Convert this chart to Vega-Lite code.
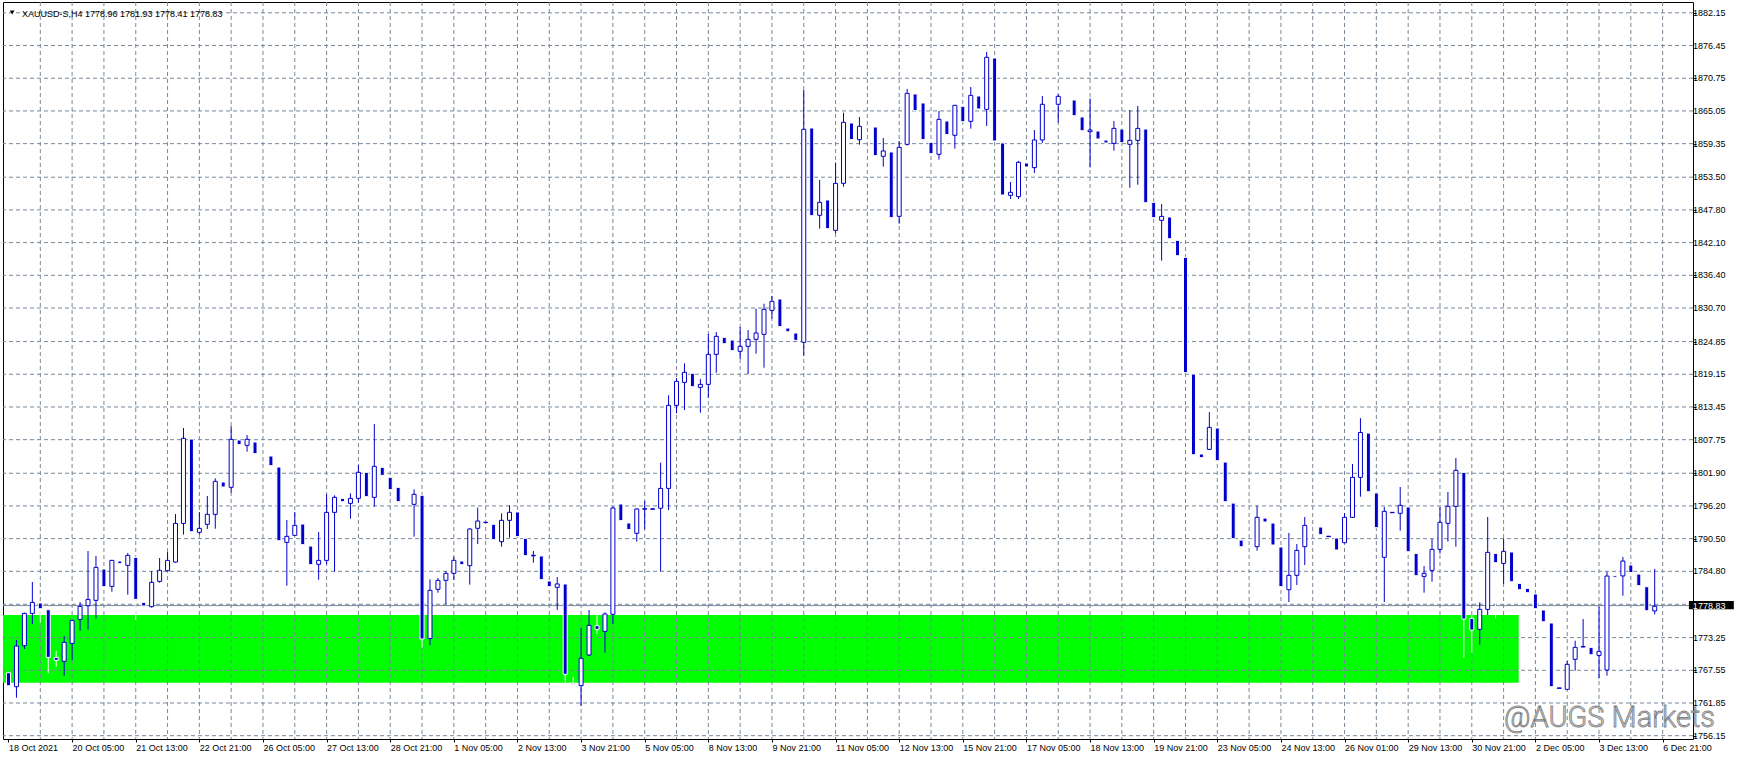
{
  "$schema": "https://vega.github.io/schema/vega-lite/v6.json",
  "width": 1690,
  "height": 737,
  "autosize": {"type": "none"},
  "padding": {"left": 3, "top": 2, "right": 47, "bottom": 22},
  "background": "#ffffff",
  "config": {
    "view": {"stroke": "#000000", "strokeWidth": 1},
    "font": "Liberation Sans",
    "axis": {"domain": false, "grid": false, "title": null, "labelFont": "Liberation Sans", "labelFontSize": 9, "labelColor": "#000000", "tickColor": "#000000", "labelOverlap": false, "labelBound": false, "labelFlush": false, "tickSize": 3},
    "axisX": {"labelAlign": "left", "labelBaseline": "top", "labelPadding": 1}
  },
  "datasets": {
    "candles": [
      {"i":0,"o":1767.13,"h":1767.13,"l":1764.86,"c":1764.86},
      {"i":1,"o":1764.69,"h":1772.83,"l":1762.77,"c":1771.78},
      {"i":2,"o":1771.84,"h":1777.6,"l":1771.26,"c":1777.47},
      {"i":3,"o":1777.47,"h":1782.94,"l":1775.61,"c":1779.39},
      {"i":4,"o":1779.28,"h":1779.28,"l":1775.85,"c":1778.29},
      {"i":5,"o":1778.11,"h":1778.11,"l":1767.02,"c":1769.8},
      {"i":6,"o":1769.8,"h":1770.91,"l":1768.18,"c":1769.28},
      {"i":7,"o":1769.11,"h":1773.52,"l":1766.61,"c":1772.42},
      {"i":8,"o":1772.24,"h":1776.3,"l":1769.34,"c":1776.25},
      {"i":9,"o":1776.43,"h":1779.45,"l":1774.45,"c":1778.69},
      {"i":10,"o":1778.81,"h":1788.34,"l":1774.63,"c":1779.91},
      {"i":11,"o":1779.74,"h":1787.47,"l":1776.54,"c":1785.49},
      {"i":12,"o":1785.2,"h":1785.2,"l":1782.12,"c":1782.12},
      {"i":13,"o":1782.18,"h":1786.8,"l":1781.25,"c":1786.71},
      {"i":14,"o":1786.6,"h":1786.6,"l":1786.13,"c":1786.13},
      {"i":15,"o":1785.84,"h":1787.99,"l":1780.73,"c":1787.58},
      {"i":16,"o":1787.24,"h":1787.24,"l":1776.31,"c":1779.91},
      {"i":17,"o":1779.39,"h":1779.39,"l":1778.75,"c":1778.75},
      {"i":18,"o":1778.64,"h":1784.85,"l":1778.46,"c":1782.88},
      {"i":19,"o":1783.05,"h":1787.12,"l":1782.82,"c":1784.97},
      {"i":20,"o":1784.91,"h":1788.17,"l":1784.8,"c":1786.71},
      {"i":21,"o":1786.42,"h":1794.79,"l":1786.3,"c":1793.16},
      {"i":22,"o":1793.16,"h":1809.78,"l":1791.19,"c":1807.98},
      {"i":23,"o":1807.86,"h":1807.86,"l":1791.71,"c":1791.71},
      {"i":24,"o":1791.6,"h":1795.14,"l":1791.25,"c":1792.29},
      {"i":25,"o":1792.99,"h":1797.93,"l":1792.18,"c":1794.73},
      {"i":26,"o":1794.73,"h":1801.01,"l":1792.23,"c":1800.49},
      {"i":27,"o":1800.37,"h":1800.37,"l":1799.5,"c":1799.5},
      {"i":28,"o":1799.44,"h":1810.13,"l":1798.51,"c":1807.81},
      {"i":29,"o":1807.69,"h":1807.69,"l":1806.88,"c":1806.88},
      {"i":30,"o":1806.76,"h":1808.56,"l":1805.66,"c":1807.81},
      {"i":31,"o":1807.34,"h":1807.34,"l":1805.31,"c":1805.31},
      {"i":32,"o":1805.15,"h":1805.15,"l":1805.1,"c":1805.1},
      {"i":33,"o":1804.9,"h":1804.9,"l":1803.22,"c":1803.22},
      {"i":34,"o":1802.98,"h":1802.98,"l":1790.14,"c":1790.14},
      {"i":35,"o":1789.85,"h":1793.75,"l":1782.3,"c":1790.9},
      {"i":36,"o":1791.07,"h":1795.14,"l":1791.0,"c":1792.82},
      {"i":37,"o":1793.05,"h":1793.05,"l":1789.45,"c":1789.45},
      {"i":38,"o":1789.21,"h":1789.21,"l":1785.96,"c":1785.96},
      {"i":39,"o":1786.02,"h":1791.65,"l":1783.34,"c":1786.71},
      {"i":40,"o":1786.71,"h":1798.22,"l":1786.02,"c":1795.08},
      {"i":41,"o":1795.08,"h":1798.05,"l":1784.74,"c":1797.7},
      {"i":42,"o":1797.52,"h":1797.52,"l":1796.94,"c":1796.94},
      {"i":43,"o":1796.65,"h":1798.4,"l":1793.98,"c":1797.52},
      {"i":44,"o":1797.52,"h":1803.28,"l":1796.77,"c":1802.06},
      {"i":45,"o":1802.06,"h":1802.06,"l":1797.82,"c":1797.82},
      {"i":46,"o":1797.7,"h":1810.48,"l":1796.07,"c":1803.1},
      {"i":47,"o":1802.93,"h":1802.93,"l":1801.53,"c":1801.53},
      {"i":48,"o":1801.19,"h":1801.19,"l":1799.04,"c":1799.04},
      {"i":49,"o":1799.44,"h":1799.44,"l":1796.94,"c":1796.94},
      {"i":50,"o":1797.0,"h":1797.0,"l":1796.95,"c":1796.95},
      {"i":51,"o":1796.48,"h":1799.09,"l":1790.84,"c":1798.22},
      {"i":52,"o":1798.05,"h":1798.05,"l":1771.5,"c":1773.0},
      {"i":53,"o":1773.1,"h":1783.41,"l":1771.9,"c":1781.49},
      {"i":54,"o":1781.66,"h":1783.64,"l":1781.08,"c":1783.23},
      {"i":55,"o":1783.23,"h":1784.86,"l":1779.05,"c":1784.45},
      {"i":56,"o":1784.45,"h":1787.36,"l":1783.29,"c":1786.72},
      {"i":57,"o":1786.6,"h":1786.6,"l":1785.96,"c":1785.96},
      {"i":58,"o":1785.79,"h":1792.3,"l":1782.48,"c":1792.18},
      {"i":59,"o":1792.3,"h":1795.9,"l":1789.56,"c":1793.57},
      {"i":60,"o":1793.3,"h":1793.4,"l":1793.25,"c":1793.36},
      {"i":61,"o":1793.0,"h":1793.0,"l":1790.32,"c":1790.32},
      {"i":62,"o":1789.97,"h":1794.91,"l":1789.1,"c":1793.69},
      {"i":63,"o":1793.69,"h":1796.31,"l":1790.67,"c":1795.09},
      {"i":64,"o":1795.15,"h":1795.15,"l":1790.85,"c":1790.85},
      {"i":65,"o":1790.56,"h":1790.56,"l":1787.53,"c":1787.53},
      {"i":66,"o":1787.5,"h":1788.35,"l":1786.31,"c":1787.6},
      {"i":67,"o":1787.48,"h":1787.48,"l":1783.35,"c":1783.35},
      {"i":68,"o":1783.12,"h":1783.12,"l":1782.13,"c":1782.13},
      {"i":69,"o":1782.01,"h":1783.82,"l":1778.06,"c":1782.6},
      {"i":70,"o":1782.6,"h":1782.9,"l":1765.45,"c":1766.85},
      {"i":71,"o":1765.28,"h":1766.38,"l":1765.05,"c":1765.05},
      {"i":72,"o":1764.87,"h":1774.92,"l":1761.33,"c":1769.64},
      {"i":73,"o":1770.22,"h":1778.06,"l":1770.05,"c":1775.39},
      {"i":74,"o":1775.33,"h":1777.19,"l":1773.88,"c":1774.69},
      {"i":75,"o":1774.34,"h":1777.66,"l":1770.63,"c":1777.37},
      {"i":76,"o":1777.31,"h":1796.08,"l":1775.62,"c":1795.84},
      {"i":77,"o":1796.54,"h":1796.54,"l":1793.64,"c":1793.64},
      {"i":78,"o":1793.23,"h":1793.23,"l":1792.07,"c":1792.07},
      {"i":79,"o":1791.43,"h":1795.8,"l":1789.97,"c":1795.67},
      {"i":80,"o":1795.62,"h":1797.06,"l":1792.18,"c":1795.72},
      {"i":81,"o":1795.62,"h":1795.75,"l":1795.6,"c":1795.7},
      {"i":82,"o":1795.8,"h":1803.74,"l":1784.8,"c":1799.26},
      {"i":83,"o":1799.26,"h":1815.48,"l":1795.49,"c":1813.73},
      {"i":84,"o":1813.73,"h":1818.5,"l":1812.34,"c":1817.92},
      {"i":85,"o":1817.74,"h":1821.05,"l":1812.92,"c":1819.49},
      {"i":86,"o":1819.31,"h":1819.31,"l":1816.99,"c":1816.99},
      {"i":87,"o":1816.87,"h":1818.32,"l":1812.45,"c":1817.39},
      {"i":88,"o":1817.39,"h":1826.17,"l":1815.07,"c":1822.62},
      {"i":89,"o":1822.62,"h":1826.52,"l":1819.43,"c":1825.76},
      {"i":90,"o":1825.59,"h":1825.59,"l":1824.48,"c":1824.48},
      {"i":91,"o":1825.12,"h":1825.12,"l":1823.26,"c":1823.26},
      {"i":92,"o":1823.15,"h":1827.39,"l":1821.81,"c":1824.02},
      {"i":93,"o":1824.02,"h":1826.86,"l":1819.19,"c":1825.24},
      {"i":94,"o":1825.24,"h":1830.58,"l":1822.74,"c":1826.34},
      {"i":95,"o":1826.11,"h":1831.45,"l":1820.3,"c":1830.47},
      {"i":96,"o":1830.29,"h":1832.79,"l":1828.84,"c":1831.86},
      {"i":97,"o":1832.27,"h":1832.27,"l":1827.45,"c":1827.45},
      {"i":98,"o":1827.21,"h":1827.21,"l":1826.57,"c":1826.57},
      {"i":99,"o":1826.34,"h":1826.34,"l":1825.06,"c":1825.06},
      {"i":100,"o":1824.72,"h":1868.7,"l":1822.39,"c":1861.85},
      {"i":101,"o":1862.08,"h":1862.08,"l":1846.8,"c":1846.8},
      {"i":102,"o":1846.86,"h":1853.02,"l":1844.53,"c":1849.12},
      {"i":103,"o":1849.53,"h":1849.53,"l":1844.53,"c":1844.53},
      {"i":104,"o":1844.24,"h":1856.04,"l":1843.72,"c":1852.43},
      {"i":105,"o":1852.43,"h":1864.75,"l":1851.85,"c":1863.07},
      {"i":106,"o":1862.95,"h":1862.95,"l":1860.05,"c":1860.05},
      {"i":107,"o":1860.05,"h":1864.0,"l":1859.17,"c":1862.37},
      {"i":108,"o":1862.45,"h":1862.45,"l":1862.4,"c":1862.4},
      {"i":109,"o":1862.25,"h":1862.25,"l":1857.26,"c":1857.26},
      {"i":110,"o":1857.14,"h":1860.34,"l":1855.34,"c":1858.07},
      {"i":111,"o":1857.9,"h":1857.9,"l":1846.45,"c":1846.45},
      {"i":112,"o":1846.68,"h":1859.81,"l":1845.4,"c":1858.71},
      {"i":113,"o":1859.23,"h":1868.88,"l":1859.0,"c":1868.12},
      {"i":114,"o":1868.01,"h":1868.01,"l":1865.1,"c":1865.1},
      {"i":115,"o":1866.44,"h":1866.44,"l":1860.05,"c":1860.05},
      {"i":116,"o":1859.58,"h":1859.58,"l":1857.61,"c":1857.61},
      {"i":117,"o":1857.49,"h":1865.04,"l":1856.56,"c":1863.59},
      {"i":118,"o":1863.3,"h":1863.3,"l":1860.92,"c":1860.92},
      {"i":119,"o":1860.8,"h":1866.1,"l":1858.48,"c":1866.03},
      {"i":120,"o":1865.86,"h":1865.86,"l":1863.18,"c":1863.18},
      {"i":121,"o":1863.24,"h":1869.23,"l":1861.96,"c":1867.77},
      {"i":122,"o":1867.66,"h":1867.66,"l":1865.39,"c":1865.39},
      {"i":123,"o":1865.33,"h":1875.33,"l":1862.43,"c":1874.4},
      {"i":124,"o":1874.28,"h":1874.28,"l":1859.81,"c":1859.81},
      {"i":125,"o":1859.47,"h":1859.47,"l":1850.4,"c":1850.4},
      {"i":126,"o":1850.34,"h":1852.67,"l":1849.7,"c":1850.87},
      {"i":127,"o":1850.11,"h":1856.33,"l":1849.7,"c":1856.1},
      {"i":128,"o":1855.98,"h":1855.98,"l":1855.28,"c":1855.28},
      {"i":129,"o":1855.17,"h":1861.73,"l":1854.24,"c":1859.99},
      {"i":130,"o":1859.99,"h":1867.66,"l":1859.47,"c":1866.21},
      {"i":131,"o":1866.25,"h":1866.25,"l":1866.2,"c":1866.2},
      {"i":132,"o":1866.21,"h":1867.95,"l":1863.01,"c":1867.6},
      {"i":133,"o":1867.25,"h":1867.25,"l":1867.2,"c":1867.2},
      {"i":134,"o":1866.96,"h":1866.96,"l":1864.23,"c":1864.23},
      {"i":135,"o":1864.0,"h":1864.0,"l":1861.61,"c":1861.61},
      {"i":136,"o":1861.43,"h":1867.24,"l":1855.22,"c":1861.72},
      {"i":137,"o":1861.55,"h":1861.55,"l":1860.16,"c":1860.16},
      {"i":138,"o":1859.98,"h":1859.98,"l":1859.46,"c":1859.46},
      {"i":139,"o":1859.4,"h":1863.29,"l":1858.12,"c":1862.01},
      {"i":140,"o":1861.9,"h":1861.9,"l":1859.52,"c":1859.52},
      {"i":141,"o":1859.23,"h":1865.21,"l":1851.67,"c":1859.92},
      {"i":142,"o":1859.92,"h":1865.91,"l":1852.19,"c":1862.01},
      {"i":143,"o":1861.9,"h":1861.9,"l":1849.06,"c":1849.06},
      {"i":144,"o":1849.12,"h":1849.12,"l":1846.44,"c":1846.44},
      {"i":145,"o":1845.98,"h":1848.82,"l":1838.95,"c":1846.67},
      {"i":146,"o":1846.56,"h":1846.56,"l":1842.78,"c":1842.78},
      {"i":147,"o":1842.49,"h":1842.49,"l":1839.82,"c":1839.82},
      {"i":148,"o":1839.53,"h":1839.53,"l":1819.42,"c":1819.42},
      {"i":149,"o":1819.19,"h":1819.19,"l":1805.13,"c":1805.13},
      {"i":150,"o":1805.25,"h":1805.25,"l":1804.61,"c":1804.61},
      {"i":151,"o":1806.06,"h":1812.57,"l":1806.0,"c":1809.89},
      {"i":152,"o":1809.78,"h":1809.78,"l":1804.08,"c":1804.08},
      {"i":153,"o":1803.85,"h":1803.85,"l":1796.94,"c":1796.94},
      {"i":154,"o":1796.7,"h":1796.7,"l":1790.49,"c":1790.49},
      {"i":155,"o":1790.25,"h":1790.25,"l":1789.09,"c":1789.09},
      {"i":156,"o":1789.15,"h":1789.15,"l":1789.1,"c":1789.1},
      {"i":157,"o":1789.1,"h":1796.24,"l":1788.4,"c":1794.21},
      {"i":158,"o":1794.09,"h":1794.09,"l":1793.4,"c":1793.4},
      {"i":159,"o":1793.22,"h":1793.22,"l":1789.39,"c":1789.39},
      {"i":160,"o":1789.04,"h":1789.04,"l":1782.12,"c":1782.12},
      {"i":161,"o":1781.6,"h":1791.48,"l":1779.45,"c":1784.1},
      {"i":162,"o":1784.1,"h":1789.56,"l":1782.41,"c":1788.46},
      {"i":163,"o":1789.1,"h":1794.27,"l":1785.9,"c":1792.81},
      {"i":164,"o":1792.85,"h":1792.85,"l":1792.8,"c":1792.8},
      {"i":165,"o":1792.52,"h":1792.52,"l":1791.19,"c":1791.19},
      {"i":166,"o":1790.85,"h":1790.95,"l":1790.8,"c":1790.92},
      {"i":167,"o":1790.61,"h":1790.61,"l":1788.52,"c":1788.52},
      {"i":168,"o":1789.79,"h":1794.96,"l":1789.7,"c":1794.21},
      {"i":169,"o":1794.21,"h":1803.51,"l":1794.1,"c":1801.18},
      {"i":170,"o":1801.18,"h":1811.5,"l":1797.81,"c":1809.0},
      {"i":171,"o":1808.9,"h":1808.9,"l":1798.68,"c":1798.68},
      {"i":172,"o":1798.45,"h":1798.45,"l":1792.41,"c":1792.41},
      {"i":173,"o":1787.24,"h":1796.01,"l":1779.45,"c":1795.26},
      {"i":174,"o":1795.02,"h":1795.1,"l":1795.0,"c":1795.08},
      {"i":175,"o":1794.91,"h":1799.5,"l":1791.89,"c":1796.3},
      {"i":176,"o":1796.01,"h":1796.01,"l":1788.22,"c":1788.22},
      {"i":177,"o":1787.93,"h":1787.93,"l":1784.04,"c":1784.04},
      {"i":178,"o":1783.92,"h":1785.73,"l":1781.08,"c":1784.45},
      {"i":179,"o":1784.97,"h":1790.43,"l":1783.0,"c":1788.63},
      {"i":180,"o":1788.63,"h":1795.95,"l":1787.88,"c":1793.34},
      {"i":181,"o":1793.16,"h":1798.63,"l":1789.97,"c":1796.13},
      {"i":182,"o":1796.13,"h":1804.55,"l":1789.1,"c":1802.4},
      {"i":183,"o":1802.05,"h":1802.05,"l":1769.75,"c":1776.49},
      {"i":184,"o":1776.6,"h":1777.18,"l":1770.62,"c":1774.57},
      {"i":185,"o":1774.69,"h":1779.39,"l":1772.01,"c":1778.17},
      {"i":186,"o":1778.17,"h":1794.27,"l":1777.18,"c":1788.11},
      {"i":187,"o":1787.93,"h":1787.93,"l":1776.6,"c":1786.31},
      {"i":188,"o":1786.19,"h":1790.49,"l":1782.59,"c":1788.28},
      {"i":189,"o":1788.17,"h":1788.17,"l":1782.99,"c":1782.99},
      {"i":190,"o":1782.7,"h":1782.7,"l":1781.6,"c":1781.6},
      {"i":191,"o":1781.83,"h":1781.83,"l":1781.08,"c":1781.08},
      {"i":192,"o":1780.85,"h":1780.85,"l":1778.29,"c":1778.29},
      {"i":193,"o":1778.06,"h":1778.06,"l":1776.02,"c":1776.02},
      {"i":194,"o":1775.79,"h":1775.79,"l":1764.69,"c":1764.69},
      {"i":195,"o":1764.4,"h":1764.5,"l":1764.35,"c":1764.48},
      {"i":196,"o":1764.23,"h":1769.17,"l":1764.2,"c":1768.59},
      {"i":197,"o":1769.46,"h":1772.71,"l":1767.48,"c":1771.55},
      {"i":198,"o":1771.62,"h":1776.49,"l":1771.5,"c":1771.7},
      {"i":199,"o":1771.55,"h":1771.55,"l":1770.27,"c":1770.27},
      {"i":200,"o":1770.15,"h":1778.64,"l":1766.15,"c":1770.85},
      {"i":201,"o":1767.6,"h":1784.74,"l":1766.61,"c":1783.98},
      {"i":202,"o":1784.04,"h":1784.04,"l":1783.75,"c":1783.75},
      {"i":203,"o":1784.0,"h":1787.3,"l":1780.56,"c":1786.6},
      {"i":204,"o":1785.9,"h":1785.9,"l":1784.6,"c":1784.6},
      {"i":205,"o":1784.33,"h":1784.33,"l":1782.3,"c":1782.3},
      {"i":206,"o":1782.12,"h":1782.12,"l":1777.94,"c":1777.94},
      {"i":207,"o":1777.9,"h":1785.2,"l":1777.3,"c":1778.7}
    ],
    "zone": [{"from": -2, "to": 189.9, "lo": 1765.39, "hi": 1777.19}],
    "ygrid": [
      {"p":1756.15},{"p":1761.85},{"p":1767.55},{"p":1773.25},{"p":1779.06},{"p":1784.8},{"p":1790.5},{"p":1796.2},{"p":1801.9},{"p":1807.75},{"p":1813.45},{"p":1819.15},{"p":1824.85},{"p":1830.7},{"p":1836.4},{"p":1842.1},{"p":1847.8},{"p":1853.5},{"p":1859.35},{"p":1865.05},{"p":1870.75},{"p":1876.45},{"p":1882.15}
    ],
    "ylabels": [
      {"p":1756.15},{"p":1761.85},{"p":1767.55},{"p":1773.25},{"p":1784.8},{"p":1790.5},{"p":1796.2},{"p":1801.9},{"p":1807.75},{"p":1813.45},{"p":1819.15},{"p":1824.85},{"p":1830.7},{"p":1836.4},{"p":1842.1},{"p":1847.8},{"p":1853.5},{"p":1859.35},{"p":1865.05},{"p":1870.75},{"p":1876.45},{"p":1882.15}
    ],
    "xgrid": [
      {"t":4},{"t":8},{"t":12},{"t":16},{"t":20},{"t":24},{"t":28},{"t":32},{"t":36},{"t":40},{"t":44},{"t":48},{"t":52},{"t":56},{"t":60},{"t":64},{"t":68},{"t":72},{"t":76},{"t":80},{"t":84},{"t":88},{"t":92},{"t":96},{"t":100},{"t":104},{"t":108},{"t":112},{"t":116},{"t":120},{"t":124},{"t":128},{"t":132},{"t":136},{"t":140},{"t":144},{"t":148},{"t":152},{"t":156},{"t":160},{"t":164},{"t":168},{"t":172},{"t":176},{"t":180},{"t":184},{"t":188},{"t":192},{"t":196},{"t":200},{"t":204},{"t":208}
    ],
    "bid": [{"p": 1778.83, "label": "1778.83"}],
    "header": [{"label": "XAUUSD-S,H4  1778.96 1781.93 1778.41 1778.83"}],
    "mark": [{"label": "@AUGS Markets"}]
  },
  "layer": [
    {
      "data": {"name": "zone"},
      "mark": {"type": "rect", "color": "#00ff00", "clip": true},
      "encoding": {
        "x": {
          "field": "from", "type": "quantitative",
          "scale": {"domain": [-0.0625, 211.1875], "nice": false, "zero": false},
          "axis": {
            "orient": "bottom", "title": null,
            "values": [0,8,16,24,32,40,48,56,64,72,80,88,96,104,112,120,128,136,144,152,160,168,176,184,192,200,208],
            "labelExpr": "['18 Oct 2021','20 Oct 05:00','21 Oct 13:00','22 Oct 21:00','26 Oct 05:00','27 Oct 13:00','28 Oct 21:00','1 Nov 05:00','2 Nov 13:00','3 Nov 21:00','5 Nov 05:00','8 Nov 13:00','9 Nov 21:00','11 Nov 05:00','12 Nov 13:00','15 Nov 21:00','17 Nov 05:00','18 Nov 13:00','19 Nov 21:00','23 Nov 05:00','24 Nov 13:00','26 Nov 01:00','29 Nov 13:00','30 Nov 21:00','2 Dec 05:00','3 Dec 13:00','6 Dec 21:00'][round(datum.value / 8)]",
            "labelOverlap": false
          }
        },
        "x2": {"field": "to"},
        "y": {
          "field": "lo", "type": "quantitative",
          "scale": {"domain": [1755.575, 1884.04], "nice": false, "zero": false},
          "axis": {
            "orient": "right", "title": null, "labels": false,
            "values": [1756.15,1761.85,1767.55,1773.25,1779.06,1784.8,1790.5,1796.2,1801.9,1807.75,1813.45,1819.15,1824.85,1830.7,1836.4,1842.1,1847.8,1853.5,1859.35,1865.05,1870.75,1876.45,1882.15]
          }
        },
        "y2": {"field": "hi"}
      }
    },
    {
      "data": {"name": "xgrid"},
      "mark": {"type": "rule", "color": "#778899", "strokeWidth": 1, "strokeDash": [4, 3]},
      "encoding": {"x": {"field": "t", "type": "quantitative"}}
    },
    {
      "data": {"name": "ygrid"},
      "mark": {"type": "rule", "color": "#778899", "strokeWidth": 1, "strokeDash": [4, 3]},
      "encoding": {"y": {"field": "p", "type": "quantitative"}}
    },
    {
      "data": {"name": "bid"},
      "mark": {"type": "rule", "color": "#778899", "strokeWidth": 1},
      "encoding": {"y": {"field": "p", "type": "quantitative"}}
    },
    {
      "data": {"name": "candles"},
      "mark": {"type": "rule", "strokeWidth": 1, "clip": true},
      "encoding": {
        "x": {"field": "i", "type": "quantitative"},
        "y": {"field": "l", "type": "quantitative"},
        "y2": {"field": "h"},
        "stroke": {"condition": {"test": "datum.c > datum.o", "value": "#0000cd"}, "value": "#ffffff"}
      }
    },
    {
      "data": {"name": "candles"},
      "mark": {"type": "bar", "size": 4, "strokeWidth": 1, "clip": true},
      "encoding": {
        "x": {"field": "i", "type": "quantitative"},
        "y": {"field": "o", "type": "quantitative"},
        "y2": {"field": "c"},
        "fill": {"condition": {"test": "datum.c > datum.o", "value": "#ffffff"}, "value": "#0000cd"},
        "stroke": {"condition": {"test": "datum.c > datum.o", "value": "#0000cd"}, "value": "#ffffff"}
      }
    },
    {
      "data": {"name": "ylabels"},
      "mark": {"type": "text", "color": "#000000", "font": "Liberation Sans", "fontSize": 9, "align": "left", "baseline": "middle", "clip": false},
      "encoding": {
        "x": {"datum": 211.81},
        "y": {"field": "p", "type": "quantitative"},
        "text": {"field": "p", "type": "quantitative", "format": ".2f"}
      }
    },
    {
      "data": {"name": "bid"},
      "mark": {"type": "rect", "color": "#000000", "clip": false},
      "encoding": {
        "x": {"datum": 211.3},
        "x2": {"datum": 216.95},
        "y": {"datum": 1778.18},
        "y2": {"datum": 1779.63}
      }
    },
    {
      "data": {"name": "bid"},
      "mark": {"type": "text", "color": "#ffffff", "font": "Liberation Sans", "fontSize": 9, "align": "left", "baseline": "middle", "clip": false},
      "encoding": {
        "x": {"datum": 211.8},
        "y": {"field": "p", "type": "quantitative"},
        "text": {"field": "label"}
      }
    },
    {
      "data": {"name": "header"},
      "mark": {"type": "text", "color": "#000000", "font": "Liberation Sans", "fontSize": 9, "align": "left", "baseline": "alphabetic"},
      "encoding": {
        "x": {"datum": 1.69},
        "y": {"datum": 1881.5},
        "text": {"field": "label"}
      }
    },
    {
      "data": {"name": "header"},
      "mark": {"type": "point", "shape": "triangle-down", "filled": true, "color": "#000000", "size": 22, "opacity": 1},
      "encoding": {
        "x": {"datum": 0.46},
        "y": {"datum": 1882.2}
      }
    },
    {
      "data": {"name": "mark"},
      "mark": {"type": "text", "font": "Roboto", "fontWeight": 300, "fontSize": 29, "align": "left", "baseline": "alphabetic", "fill": "#d4d4d4", "stroke": "#7f7f7f", "strokeWidth": 0.8, "clip": false},
      "encoding": {
        "x": {"datum": 188.06},
        "y": {"datum": 1757.67},
        "text": {"field": "label"}
      }
    }
  ]
}
